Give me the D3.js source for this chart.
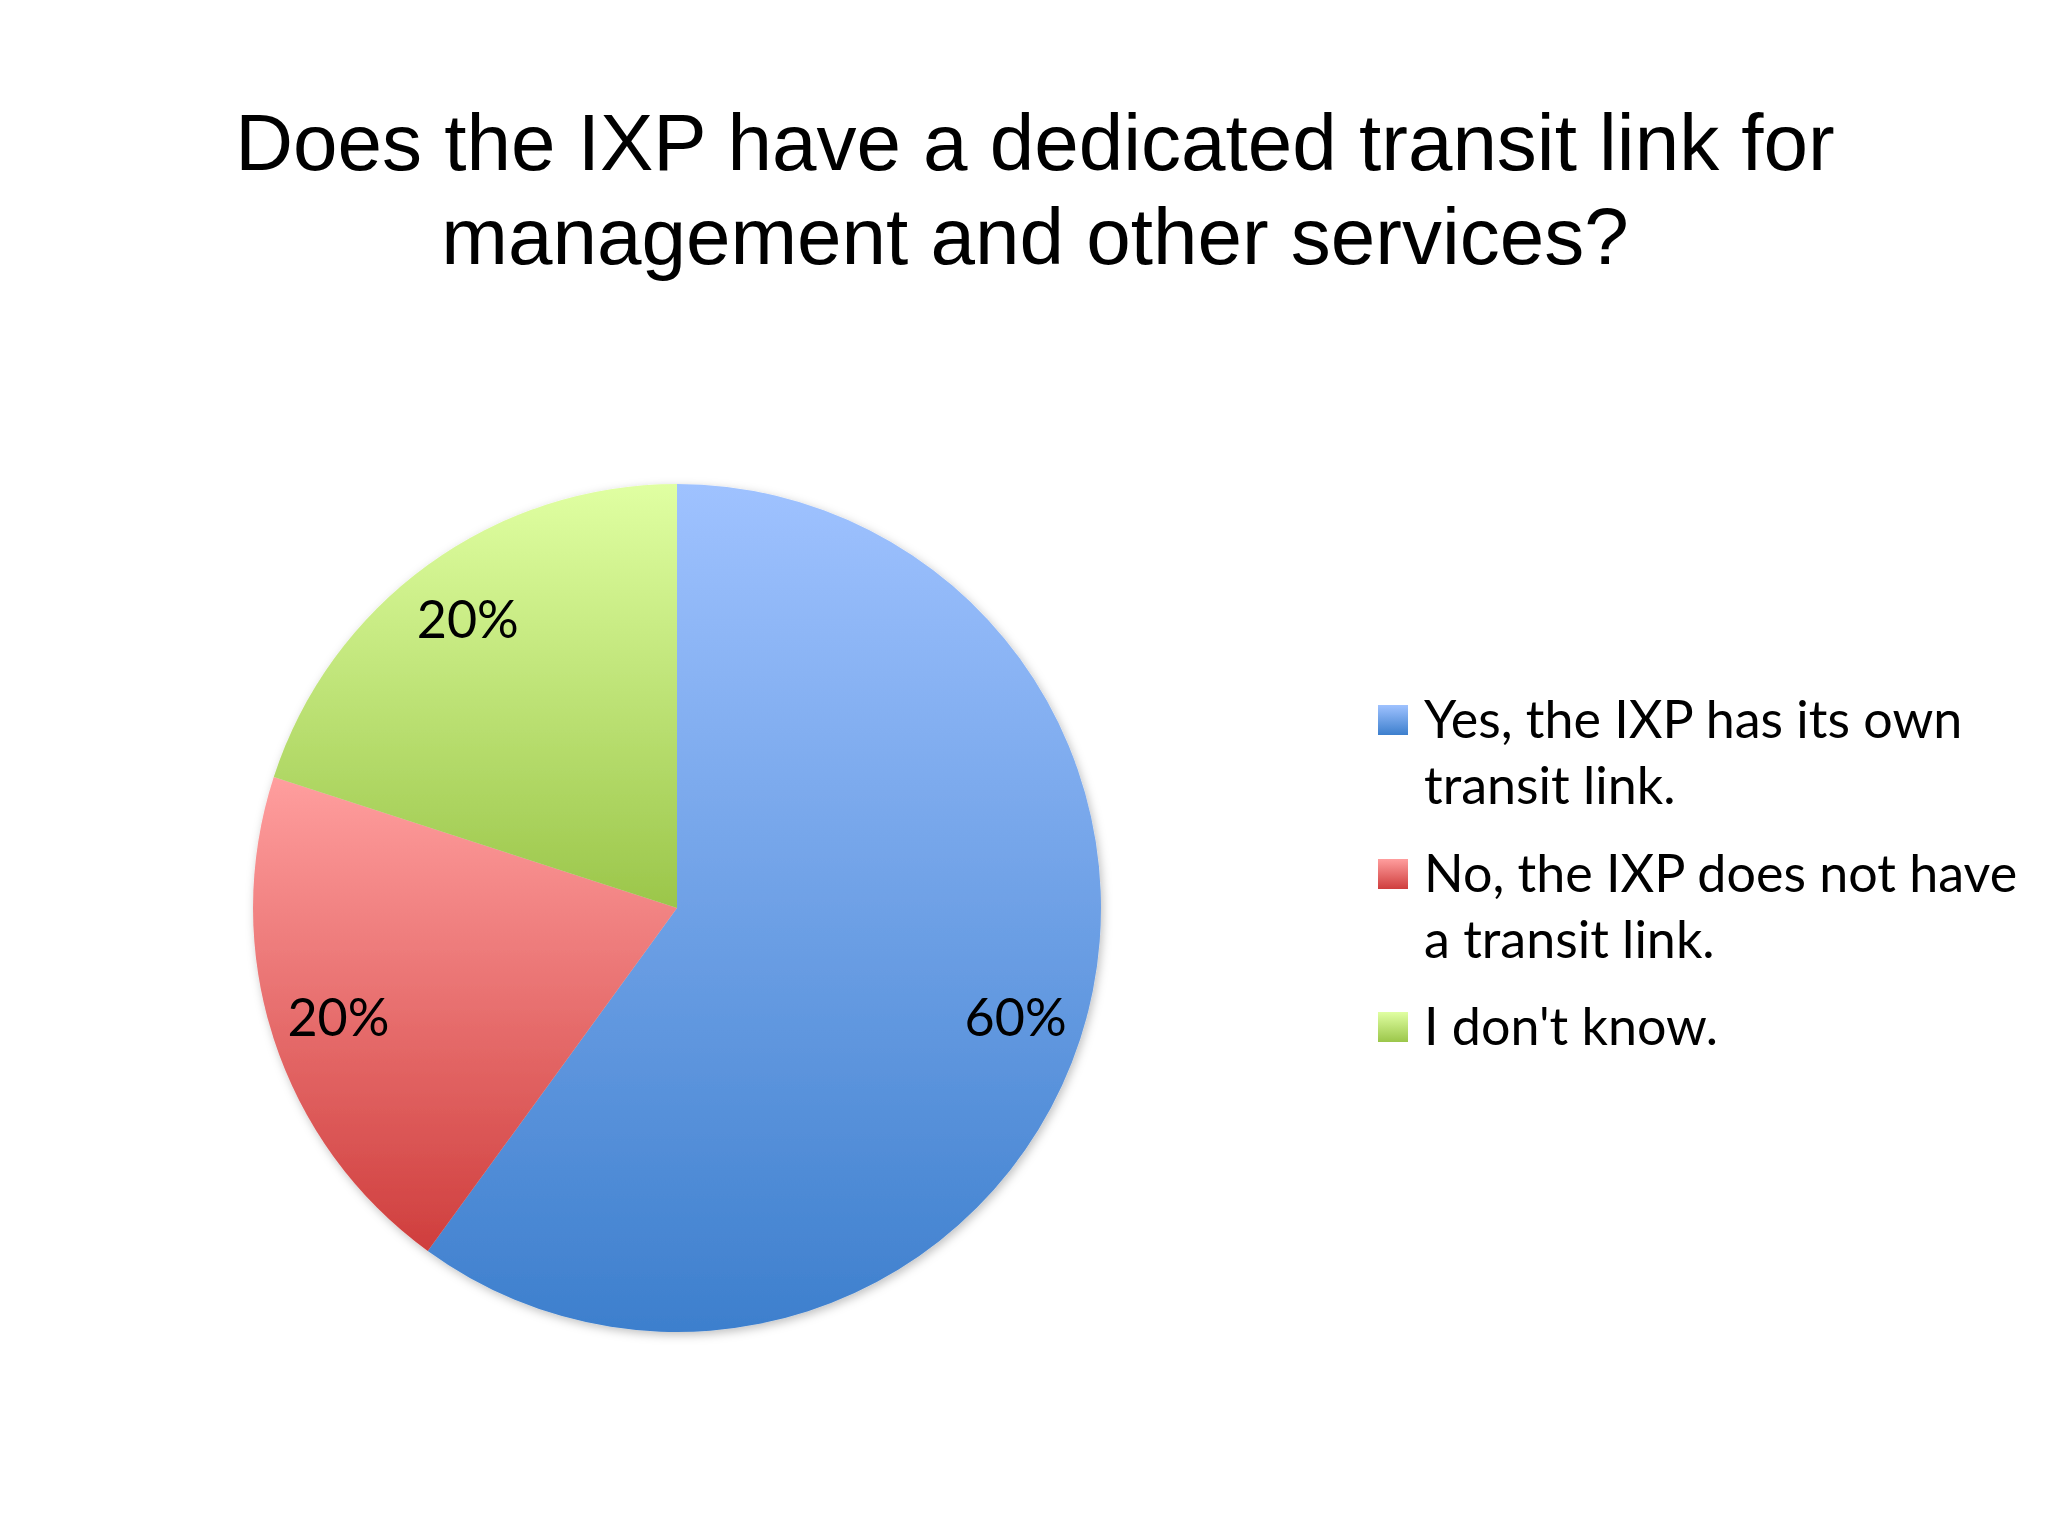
<!DOCTYPE html>
<html>
<head>
<meta charset="utf-8">
<script src="https://cdn.jsdelivr.net/npm/d3@7"></script>
<style>
  body { margin: 0; background: #fff; }
</style>
</head>
<body>
<div id="chart"></div>
<script>
// Data
const titleLines = ["Does the IXP have a dedicated transit link for", "management and other services?"];
const categories = ["Yes, the IXP has its own transit link.", "No, the IXP does not have a transit link.", "I don't know."];
const legendLines = [["Yes, the IXP has its own", "transit link."], ["No, the IXP does not have", "a transit link."], ["I don't know."]];
const values = [60, 20, 20];
const gradTop = ["#9fc2ff", "#ff9e9e", "#e0ffa2"];
const gradBottom = ["#3d7fcd", "#cf3e3d", "#9bc64a"];

const width = 2048, height = 1536;
const cx = 677, cy = 908, radius = 424;

const svg = d3.select("#chart").append("svg")
  .attr("width", width)
  .attr("height", height);

const defs = svg.append("defs");

// One vertical gradient per slice, like the office-style fill
categories.forEach((c, i) => {
  const g = defs.append("linearGradient")
    .attr("id", "grad" + i)
    .attr("x1", 0).attr("y1", 0).attr("x2", 0).attr("y2", 1);
  g.append("stop").attr("offset", "0%").attr("stop-color", gradTop[i]);
  g.append("stop").attr("offset", "100%").attr("stop-color", gradBottom[i]);
});

const shadow = defs.append("filter").attr("id", "shadow")
  .attr("x", "-10%").attr("y", "-10%").attr("width", "120%").attr("height", "120%");
shadow.append("feDropShadow")
  .attr("dx", 2).attr("dy", 3).attr("stdDeviation", 5)
  .attr("flood-color", "#000").attr("flood-opacity", 0.25);

// Title
svg.append("g")
  .attr("font-family", "'Liberation Sans', Arial, sans-serif")
  .attr("font-size", 80)
  .attr("text-anchor", "middle")
  .attr("fill", "#000")
  .selectAll("text")
  .data(titleLines)
  .join("text")
  .attr("x", 1035)
  .attr("y", (d, i) => 170 + i * 94)
  .text(d => d);

// Pie
const pie = d3.pie().sort(null).value(d => d);
const arcs = pie(values);
const arc = d3.arc().innerRadius(0).outerRadius(radius);
const labelArc = d3.arc().innerRadius(356).outerRadius(356);

const g = svg.append("g").attr("transform", `translate(${cx},${cy})`);

g.append("g")
  .attr("filter", "url(#shadow)")
  .selectAll("path")
  .data(arcs)
  .join("path")
  .attr("d", arc)
  .attr("fill", (d, i) => `url(#grad${i})`);

g.append("g")
  .attr("font-family", "Lato, 'Open Sans', sans-serif")
  .attr("font-size", 52)
  .attr("text-anchor", "middle")
  .attr("fill", "#000")
  .selectAll("text")
  .data(arcs)
  .join("text")
  .attr("transform", d => `translate(${labelArc.centroid(d)})`)
  .attr("dy", "0.35em")
  .text(d => d.value + "%");

// Legend
const legendX = 1378;
const legendTops = [738, 892, 1045];
const legend = svg.append("g")
  .attr("font-family", "Lato, 'Open Sans', sans-serif")
  .attr("font-size", 52)
  .attr("fill", "#000");

legendLines.forEach((lines, i) => {
  legend.append("rect")
    .attr("x", legendX)
    .attr("y", legendTops[i] - 33)
    .attr("width", 30)
    .attr("height", 30)
    .attr("fill", `url(#grad${i})`);
  legend.append("text")
    .attr("x", legendX + 46)
    .attr("y", legendTops[i])
    .selectAll("tspan")
    .data(lines)
    .join("tspan")
    .attr("x", legendX + 46)
    .attr("dy", (d, j) => j === 0 ? 0 : 66)
    .text(d => d);
});
</script>
</body>
</html>
